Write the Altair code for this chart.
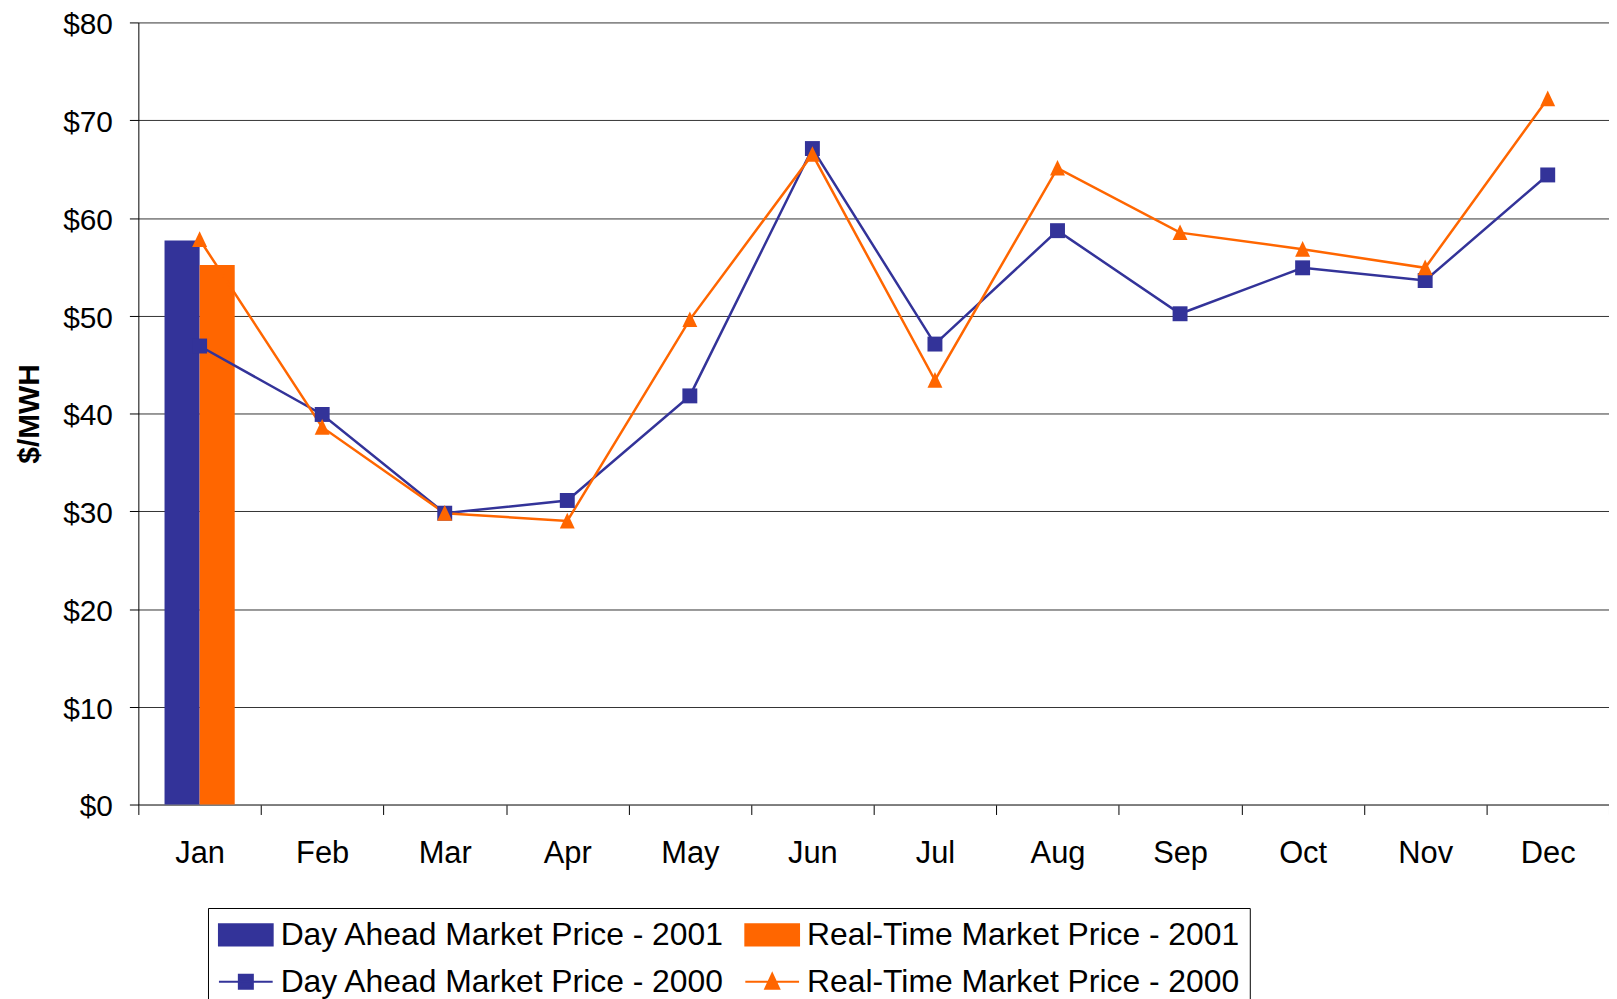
import altair as alt
import pandas as pd

# ---- data ----
months = ["Jan", "Feb", "Mar", "Apr", "May", "Jun", "Jul", "Aug", "Sep", "Oct", "Nov", "Dec"]
da_2000 = [46.9, 39.9, 29.8, 31.1, 41.8, 67.1, 47.1, 58.7, 50.2, 54.9, 53.6, 64.4]
rt_2000 = [57.8, 38.6, 29.8, 29.0, 49.6, 66.5, 43.4, 65.1, 58.5, 56.8, 54.9, 72.2]
months_2001 = ["Jan"]
da_2001 = [57.7]
rt_2001 = [55.2]

series = [
    "Day Ahead Market Price - 2001",
    "Real-Time Market Price - 2001",
    "Day Ahead Market Price - 2000",
    "Real-Time Market Price - 2000",
]
colors = ["#333399", "#FF6600", "#333399", "#FF6600"]
y_ticks = [0, 10, 20, 30, 40, 50, 60, 70, 80]

# legend glyphs (unit = symbol radius)
legend_shapes = [
    "M-1,-0.66H2.375V0.66H-1Z",
    "M-1,-0.66H2.375V0.66H-1Z",
    "M-1,0H2.375M0.25,-0.44H1.13V0.44H0.25Z",
    "M-1,0H2.375M0.69,-0.5L1.13,0.45H0.25Z",
]
triangle_path = "M0,-1.1L1,1H-1Z"

FONT = "Liberation Sans"

bars_df = pd.DataFrame(
    [{"Month": m, "Series": series[0], "Value": v} for m, v in zip(months_2001, da_2001)]
    + [{"Month": m, "Series": series[1], "Value": v} for m, v in zip(months_2001, rt_2001)]
)
lines_df = pd.DataFrame(
    [{"Month": m, "Series": series[2], "Value": v} for m, v in zip(months, da_2000)]
    + [{"Month": m, "Series": series[3], "Value": v} for m, v in zip(months, rt_2000)]
)

x_enc = alt.X(
    "Month:N",
    sort=months,
    scale=alt.Scale(domain=months, paddingInner=0, paddingOuter=0),
    axis=alt.Axis(
        title=None,
        labelAngle=0,
        labelFont=FONT,
        labelFontSize=31,
        labelColor="black",
        labelPadding=24,
        tickBand="extent",
        tickSize=10,
        tickColor="black",
        domainColor="#666666",
        grid=False,
    ),
)
y_enc = alt.Y(
    "Value:Q",
    scale=alt.Scale(domain=[0, 80], nice=False),
    axis=alt.Axis(
        values=y_ticks,
        labelExpr="'$' + datum.value",
        labelFont=FONT,
        labelFontSize=30,
        labelColor="black",
        labelPadding=17,
        labelOffset=2.5,
        tickSize=9,
        tickColor="black",
        domainColor="black",
        grid=True,
        gridColor="#333333",
        gridWidth=1,
        title="$/MWH",
        titleFont=FONT,
        titleFontSize=30,
        titleFontWeight="bold",
        titleColor="black",
        titleAngle=270,
        titleAlign="center",
        titleBaseline="middle",
        titleX=-109,
        titleY=393,
    ),
)
color_scale = alt.Scale(domain=series, range=colors)

legend_props = dict(
    orient="none",
    direction="horizontal",
    legendX=70,
    legendY=890,
    columns=2,
    title=None,
    labelFont=FONT,
    labelFontSize=32,
    labelColor="black",
    labelLimit=1000,
    labelOffset=29,
    symbolSize=1024,
    symbolStrokeWidth=2,
    symbolOpacity=1,
    padding=10,
    rowPadding=14,
    columnPadding=16,
    strokeColor="black",
    fillColor="white",
    cornerRadius=0,
)

# invisible layer that only carries the legend (colour + shape per series)
legend_layer = (
    alt.Chart(lines_df)
    .transform_filter("false")
    .mark_point(filled=True, opacity=1, strokeWidth=2)
    .encode(
        color=alt.Color("Series:N", scale=color_scale, legend=alt.Legend(**legend_props)),
        stroke=alt.Stroke(
            "Series:N",
            scale=alt.Scale(domain=series, range=colors),
            legend=alt.Legend(**legend_props),
        ),
        shape=alt.Shape(
            "Series:N",
            scale=alt.Scale(domain=series, range=legend_shapes),
            legend=alt.Legend(**legend_props),
        ),
    )
)

bars = (
    alt.Chart(bars_df)
    .mark_bar(opacity=1)
    .encode(
        x=x_enc,
        y=y_enc,
        xOffset=alt.XOffset(
            "Series:N",
            scale=alt.Scale(domain=series[:2], paddingInner=0, paddingOuter=0.746),
        ),
        color=alt.Color("Series:N", scale=color_scale),
    )
)

lines = (
    alt.Chart(lines_df)
    .mark_line(strokeWidth=2.5)
    .encode(
        x=x_enc,
        y=y_enc,
        color=alt.Color("Series:N", scale=color_scale),
    )
)

squares = (
    alt.Chart(lines_df)
    .transform_filter(alt.datum.Series == series[2])
    .mark_point(shape="square", filled=True, size=225, opacity=1)
    .encode(
        x=x_enc,
        y=y_enc,
        color=alt.Color("Series:N", scale=color_scale),
    )
)

triangles = (
    alt.Chart(lines_df)
    .transform_filter(alt.datum.Series == series[3])
    .mark_point(shape=triangle_path, filled=True, size=225, opacity=1)
    .encode(
        x=x_enc,
        y=y_enc,
        color=alt.Color("Series:N", scale=color_scale),
    )
)

chart = (
    alt.layer(legend_layer, bars, lines, squares, triangles)
    .properties(
        width=1478,
        height=786,
        autosize=alt.AutoSizeParams(type="none"),
        padding={"left": 131, "top": 12, "right": 0, "bottom": 205},
        background="white",
    )
    .configure_view(stroke="transparent")
)

chart.save("out.html", embed_options={"renderer": "svg", "actions": False})
